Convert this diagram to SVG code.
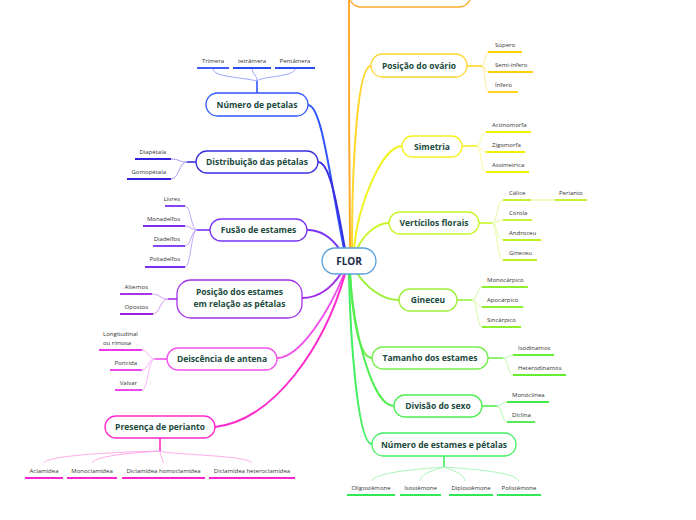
<svg xmlns="http://www.w3.org/2000/svg" width="696" height="520" viewBox="0 0 696 520">
<style>
text{font-family:"Open Sans","Noto Sans","Liberation Sans",sans-serif}
.nt{font-size:8.5px;font-weight:bold;fill:#1a4a3c;text-anchor:middle}
.lt{font-size:6px;fill:#333}
.ls{text-anchor:start}.le{text-anchor:end}.lm{text-anchor:middle}
.nb{fill:#fff;stroke-width:1.3}
.mc{fill:none;stroke-width:2;stroke-linecap:round}
.sc{fill:none;stroke-width:0.9}
.ul{stroke-width:1.8;fill:none}
.tr{stroke-width:1.6;fill:none}
</style>
<rect width="696" height="520" fill="#fff"/>
<g id="connectors">
<path class="mc" stroke="#2f55ff" d="M308,105 C322,105 330,180 344,249"/>
<path class="mc" stroke="#3a2ee0" d="M318,162 C330,162 337,205 345,249"/>
<path class="mc" stroke="#7a35f5" d="M307,230 C322,230 332,238 340,250"/>
<path class="mc" stroke="#a330e8" d="M302,298 C320,298 333,286 342,272"/>
<path class="mc" stroke="#f050ee" d="M277,358 C300,358 330,310 344,274"/>
<path class="mc" stroke="#ff2acb" d="M215,427 C275,420 325,345 345,274"/>
<path class="mc" stroke="#ffaa2a" d="M349,-5 C349,60 349,180 350,248"/>
<path class="mc" stroke="#ffd52a" d="M371,66 C356,66 352,180 352,248"/>
<path class="mc" stroke="#f2f220" d="M402,146 C382,146 358,205 354,248"/>
<path class="mc" stroke="#c8f52a" d="M389,223 C374,223 362,238 357,249"/>
<path class="mc" stroke="#9cf03a" d="M399,300 C380,300 365,285 357,273"/>
<path class="mc" stroke="#77ee4a" d="M372,358 C358,358 352,310 350,274"/>
<path class="mc" stroke="#50ee50" d="M394,406 C372,406 353,330 350,274"/>
<path class="mc" stroke="#40ee60" d="M372,444 C357,444 350,330 349,274"/>

<!-- Número de petalas subs -->
<path class="tr" stroke="#2f55ff" d="M257,93 V81"/>
<g class="sc" stroke="#8c9cff">
<path d="M257,81 C240,77 214,77 213,69"/>
<path d="M257,81 C257,75 253,75 252,69"/>
<path d="M257,81 C262,76 294,77 295,69"/>
</g>
<!-- Distribuição subs -->
<path class="tr" stroke="#3a2ee0" d="M196,162 H187"/>
<g class="sc" stroke="#9d8ff0">
<path d="M187,162 C179,162 179,159 171,159"/>
<path d="M187,162 C179,162 179,179 171,179"/>
</g>
<!-- Fusão subs -->
<path class="tr" stroke="#7a35f5" d="M210,230 H197"/>
<g class="sc" stroke="#b89af7">
<path d="M197,230 C191,230 191,206 185,206"/>
<path d="M197,230 C191,230 191,226 185,226"/>
<path d="M197,230 C191,230 191,246 185,246"/>
<path d="M197,230 C191,230 191,267 185,267"/>
</g>
<!-- Posição estames subs -->
<path class="tr" stroke="#a330e8" d="M177,299 H168"/>
<g class="sc" stroke="#cf90f2">
<path d="M168,299 C160,299 160,294 152,294"/>
<path d="M168,299 C160,299 160,314 153,314"/>
</g>
<!-- Deiscência subs -->
<path class="tr" stroke="#f050ee" d="M167,359 H155"/>
<g class="sc" stroke="#f7a8f5">
<path d="M155,359 C148,359 148,350 142,350"/>
<path d="M155,359 C148,359 148,370 142,370"/>
<path d="M155,359 C148,359 148,390 142,390"/>
</g>
<!-- Presença subs -->
<path class="tr" stroke="#ff2acb" d="M160,438 V451"/>
<g class="sc" stroke="#ffa0e6">
<path d="M160,451 C120,452 48,455 44,463"/>
<path d="M160,451 C130,453 95,456 92,463"/>
<path d="M160,451 C160,456 163,458 163,463"/>
<path d="M160,451 C170,455 248,455 252,463"/>
</g>
<!-- Ovário subs -->
<path class="tr" stroke="#ffd52a" d="M467,66 H482"/>
<g class="sc" stroke="#ffe98a">
<path d="M482,66 C485,66 485,52 488,52"/>
<path d="M482,66 C485,66 485,72 488,72"/>
<path d="M482,66 C485,66 485,92 488,92"/>
</g>
<!-- Simetria subs -->
<path class="tr" stroke="#f2f220" d="M462,146 H477"/>
<g class="sc" stroke="#f8f890">
<path d="M477,146 C481,146 481,132 486,132"/>
<path d="M477,146 C481,146 481,152 486,152"/>
<path d="M477,146 C481,146 481,172 486,172"/>
</g>
<!-- Vertícilos subs -->
<path class="tr" stroke="#c8f52a" d="M479,223 H492"/>
<g class="sc" stroke="#e0fa99">
<path d="M492,223 C497,223 497,200 503,200"/>
<path d="M492,223 C497,223 497,220 503,220"/>
<path d="M492,223 C497,223 497,240 503,240"/>
<path d="M492,223 C497,223 497,260 503,260"/>
<path d="M531,200 H555" stroke-width="1.2"/>
</g>
<!-- Gineceu subs -->
<path class="tr" stroke="#9cf03a" d="M457,300 H472"/>
<g class="sc" stroke="#cdf79c">
<path d="M472,300 C477,300 477,287 482,287"/>
<path d="M472,300 C477,300 477,307 482,307"/>
<path d="M472,300 C477,300 477,327 482,327"/>
</g>
<!-- Tamanho subs -->
<path class="tr" stroke="#77ee4a" d="M488,358 H503"/>
<g class="sc" stroke="#b8f7a0">
<path d="M503,358 C508,358 508,355 513,355"/>
<path d="M503,358 C508,358 508,375 513,375"/>
</g>
<!-- Divisão subs -->
<path class="tr" stroke="#50ee50" d="M482,406 H497"/>
<g class="sc" stroke="#a8f5a8">
<path d="M497,406 C502,406 502,402 507,402"/>
<path d="M497,406 C502,406 502,422 507,422"/>
</g>
<!-- Número estames subs -->
<path class="tr" stroke="#40ee60" d="M444,456 V467"/>
<g class="sc" stroke="#a0f5b0">
<path d="M444,467 C420,469 375,472 372,481"/>
<path d="M444,467 C435,470 421,473 420,481"/>
<path d="M444,467 C450,470 464,473 465,481"/>
<path d="M444,467 C470,469 516,472 519,481"/>
</g>
</g>

<g id="root">
<rect class="nb" stroke="#5aa0dc" x="322" y="248" width="54" height="26" rx="13"/>
<text x="349" y="265" style="font-size:10px;font-weight:bold;fill:#1b2a4a;text-anchor:middle">FLOR</text>
</g>
<g id="n-top">
<rect class="nb" stroke="#ffaa2a" x="349" y="-20" width="122" height="27" rx="12"/>
</g>

<g id="n-numero-petalas">
<rect class="nb" stroke="#2f55ff" x="206" y="93" width="102" height="23" rx="11.5"/>
<text class="nt" x="257" y="108">Número de petalas</text>
<g stroke="#2a4cf0" class="ul"><path d="M197,68H229"/><path d="M233,68H271"/><path d="M275,68H315"/></g>
<text class="lt lm" x="213" y="62.5">Trímera</text>
<text class="lt lm" x="252" y="62.5">tetrâmera</text>
<text class="lt lm" x="295" y="62.5">Pentâmera</text>
</g>

<g id="n-distribuicao">
<rect class="nb" stroke="#3a2ee0" x="196" y="151" width="122" height="22" rx="11"/>
<text class="nt" x="257" y="165">Distribuição das pétalas</text>
<g stroke="#3322dd" class="ul"><path d="M135,159H171"/><path d="M127,179H171"/></g>
<text class="lt le" x="166" y="153.5">Diapétala</text>
<text class="lt le" x="166" y="173.5">Gomopétala</text>
</g>

<g id="n-fusao">
<rect class="nb" stroke="#7a35f5" x="210" y="219" width="97" height="22" rx="11"/>
<text class="nt" x="258.5" y="233">Fusão de estames</text>
<g stroke="#7a2ff0" class="ul"><path d="M165,206H185"/><path d="M143,226H185"/><path d="M153,246H185"/><path d="M145,267H185"/></g>
<text class="lt le" x="180" y="200.5">Livres</text>
<text class="lt le" x="180" y="220.5">Monadelfos</text>
<text class="lt le" x="180" y="240.5">Diadelfos</text>
<text class="lt le" x="180" y="261">Poliadelfos</text>
</g>

<g id="n-posicao-estames">
<rect class="nb" stroke="#a330e8" x="177" y="280" width="125" height="38" rx="14"/>
<text class="nt" x="239.5" y="294.7">Posição dos estames</text>
<text class="nt" x="239.5" y="306.5">em relação as pétalas</text>
<g stroke="#9b20e0" class="ul"><path d="M120,294H152"/><path d="M120,314H153"/></g>
<text class="lt le" x="148" y="288.5">Alternos</text>
<text class="lt le" x="148" y="308.5">Opostos</text>
</g>

<g id="n-deiscencia">
<rect class="nb" stroke="#f050ee" x="167" y="348" width="110" height="22" rx="11"/>
<text class="nt" x="222" y="362">Deiscência de antena</text>
<g stroke="#ee33ee" class="ul"><path d="M99,350H142"/><path d="M110,370H142"/><path d="M115,390H142"/></g>
<text class="lt ls" x="103" y="336">Longitudinal</text>
<text class="lt ls" x="103" y="345">ou rimosa</text>
<text class="lt le" x="137" y="364.5">Poricida</text>
<text class="lt le" x="137" y="384.5">Valvar</text>
</g>

<g id="n-presenca">
<rect class="nb" stroke="#ff2acb" x="105" y="416" width="110" height="22" rx="11"/>
<text class="nt" x="160" y="430">Presença de perianto</text>
<g stroke="#ff22cc" class="ul"><path d="M25,478H63"/><path d="M67,478H117"/><path d="M122,478H205"/><path d="M209,478H295"/></g>
<text class="lt lm" x="44" y="472.5">Aclamídea</text>
<text class="lt lm" x="92" y="472.5">Monoclamídea</text>
<text class="lt lm" x="163.5" y="472.5">Diclamídea homoclamídea</text>
<text class="lt lm" x="252" y="472.5">Diclamídea heteroclamídea</text>
</g>

<g id="n-ovario">
<rect class="nb" stroke="#ffd52a" x="371" y="54" width="96" height="23" rx="11.5"/>
<text class="nt" x="419" y="69">Posição do ovário</text>
<g stroke="#ffd000" class="ul"><path d="M488,52H522"/><path d="M488,72H533"/><path d="M488,92H518"/></g>
<text class="lt ls" x="495" y="46.5">Súpero</text>
<text class="lt ls" x="495" y="66.5">Semi-ínfero</text>
<text class="lt ls" x="495" y="86.5">Ínfero</text>
</g>

<g id="n-simetria">
<rect class="nb" stroke="#f2f220" x="402" y="136" width="60" height="21" rx="10.5"/>
<text class="nt" x="432" y="149.5">Simetria</text>
<g stroke="#f0f000" class="ul"><path d="M486,132H531"/><path d="M486,152H525"/><path d="M486,172H529"/></g>
<text class="lt ls" x="492" y="126.5">Actinomorfa</text>
<text class="lt ls" x="492" y="146.5">Zigomorfa</text>
<text class="lt ls" x="492" y="166.5">Assimetrica</text>
</g>

<g id="n-verticilos">
<rect class="nb" stroke="#c8f52a" x="389" y="212" width="90" height="22" rx="11"/>
<text class="nt" x="434" y="226">Vertícilos florais</text>
<g stroke="#bff020" class="ul"><path d="M503,200H531"/><path d="M555,200H587"/><path d="M503,220H532"/><path d="M503,240H541"/><path d="M503,260H537"/></g>
<text class="lt ls" x="509" y="194.5">Cálice</text>
<text class="lt ls" x="559" y="194.5">Perianto</text>
<text class="lt ls" x="509" y="214.5">Corola</text>
<text class="lt ls" x="509" y="234.5">Androceu</text>
<text class="lt ls" x="509" y="254.5">Gineceu</text>
</g>

<g id="n-gineceu">
<rect class="nb" stroke="#9cf03a" x="399" y="289" width="58" height="22" rx="11"/>
<text class="nt" x="428" y="303">Gineceu</text>
<g stroke="#90ee30" class="ul"><path d="M482,287H528"/><path d="M482,307H523"/><path d="M482,327H521"/></g>
<text class="lt ls" x="487" y="281.5">Monocárpico</text>
<text class="lt ls" x="487" y="301.5">Apocárpico</text>
<text class="lt ls" x="487" y="321.5">Sincárpico</text>
</g>

<g id="n-tamanho">
<rect class="nb" stroke="#77ee4a" x="372" y="347" width="116" height="22" rx="11"/>
<text class="nt" x="430" y="361">Tamanho dos estames</text>
<g stroke="#66ee33" class="ul"><path d="M513,355H554"/><path d="M513,375H566"/></g>
<text class="lt ls" x="518" y="349.5">Isodínamos</text>
<text class="lt ls" x="518" y="369.5">Heterodínamos</text>
</g>

<g id="n-divisao">
<rect class="nb" stroke="#50ee50" x="394" y="395" width="88" height="22" rx="11"/>
<text class="nt" x="438" y="409">Divisão do sexo</text>
<g stroke="#44e844" class="ul"><path d="M507,402H549"/><path d="M507,422H535"/></g>
<text class="lt ls" x="512" y="396.5">Monóclinea</text>
<text class="lt ls" x="512" y="416.5">Díclina</text>
</g>

<g id="n-numero-estames">
<rect class="nb" stroke="#40ee60" x="372" y="433" width="144" height="23" rx="11.5"/>
<text class="nt" x="444" y="447.5">Número de estames e pétalas</text>
<g stroke="#33e855" class="ul"><path d="M347,495H395"/><path d="M400,495H441"/><path d="M449,495H493"/><path d="M497,495H541"/></g>
<text class="lt lm" x="371" y="490">Oligostêmone</text>
<text class="lt lm" x="420.5" y="490">Isostêmone</text>
<text class="lt lm" x="471" y="490">Diplostêmone</text>
<text class="lt lm" x="519" y="490">Polistêmone</text>
</g>
</svg>
